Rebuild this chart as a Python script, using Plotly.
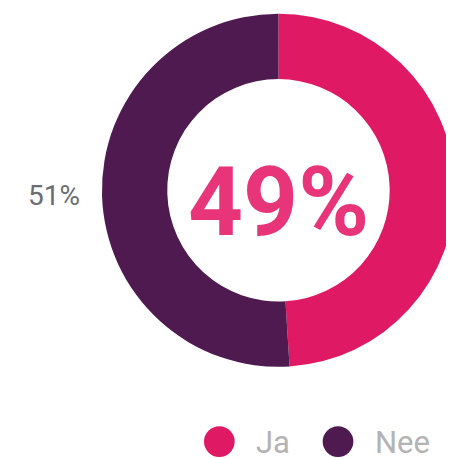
import plotly.graph_objects as go

categories = ["Ja", "Nee"]
values = [49, 51]
colors = ["#E01964", "#4E1A50"]
label_templates = ["", "%{percent:.0%}\u00a0\u00a0"]

# the page body adds an 8px offset; work in screen pixels and shift
OFF = 8
W, H = 460 - OFF, 458 - OFF
total = sum(values)
center_text = f"{round(100 * values[0] / total)}%"


def px(x):
    return (x - OFF) / W


def py(y):
    return 1 - (y - OFF) / H


fig = go.Figure()
fig.add_trace(go.Pie(
    labels=categories,
    values=values,
    hole=0.63,
    sort=False,
    direction="clockwise",
    rotation=0,
    marker=dict(colors=colors, line=dict(width=0)),
    texttemplate=label_templates,
    textposition="outside",
    outsidetextfont=dict(family="Roboto", size=28, color="#6A6D72"),
    domain=dict(x=[px(103), 1], y=[py(367), py(10)]),
    showlegend=False,
    hoverinfo="label+percent",
))

fig.add_annotation(
    x=px(281.5), y=py(200), xref="paper", yref="paper",
    text=center_text, showarrow=False, xanchor="center", yanchor="middle",
    font=dict(family="Roboto", size=96, color="#E8357A", weight="bold"),
)

# manual legend
leg_x = [221.7, 341.7]
leg_y = 441.5
for cat, col, lx in zip(categories, colors, leg_x):
    fig.add_shape(
        type="circle", xref="paper", yref="paper",
        x0=px(lx - 15.5), x1=px(lx + 15.5),
        y0=py(leg_y + 15.5), y1=py(leg_y - 15.5),
        fillcolor=col, line=dict(width=0),
    )
    fig.add_annotation(
        x=px(lx + 36), y=py(leg_y), xref="paper", yref="paper",
        text=cat, showarrow=False, xanchor="left", yanchor="middle",
        height=30, valign="middle", borderpad=0,
        font=dict(family="Roboto", size=31, color="#B3B3B3"),
    )

fig.update_layout(
    width=W, height=H,
    margin=dict(l=0, r=0, t=0, b=0),
    paper_bgcolor="white", plot_bgcolor="white",
)

fig.write_html("out.html")
